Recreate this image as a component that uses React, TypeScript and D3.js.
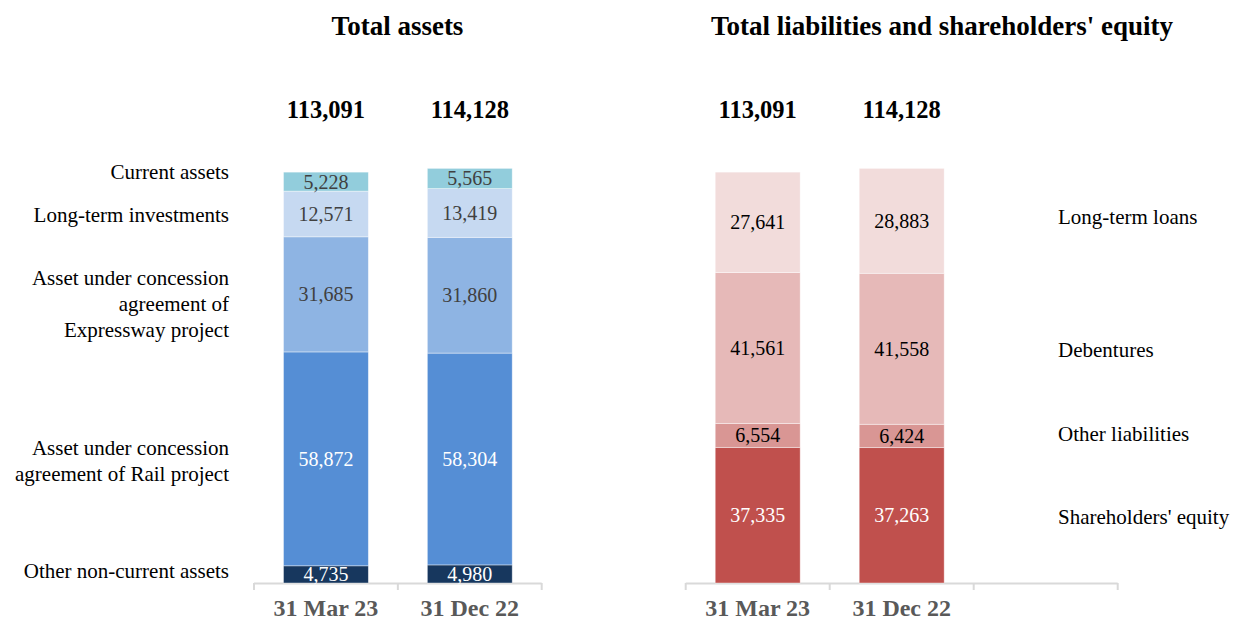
import React, { useEffect, useRef } from 'react';
import * as d3 from 'd3';

const periods = ['31 Mar 23', '31 Dec 22'];

const assetNames = [
  'Other non-current assets',
  'Asset under concession agreement of Rail project',
  'Asset under concession agreement of Expressway project',
  'Long-term investments',
  'Current assets',
];
const assetLines = [
  ['Other non-current assets'],
  ['Asset under concession', 'agreement of Rail project'],
  ['Asset under concession', 'agreement of', 'Expressway project'],
  ['Long-term investments'],
  ['Current assets'],
];
const assetsMar23 = [4735, 58872, 31685, 12571, 5228];
const assetsDec22 = [4980, 58304, 31860, 13419, 5565];
const assetColors = ['#17375E', '#558ED5', '#8EB4E3', '#C6D9F1', '#92CDDC'];
const assetTextColors = ['#FFFFFF', '#FFFFFF', '#404040', '#404040', '#404040'];
const assetLabelNudge = [-4, 2, 9, 1, -10];

const liabNames = ["Shareholders' equity", 'Other liabilities', 'Debentures', 'Long-term loans'];
const liabMar23 = [37335, 6554, 41561, 27641];
const liabDec22 = [37263, 6424, 41558, 28883];
const liabColors = ['#C0504D', '#D99694', '#E6B9B8', '#F2DCDB'];
const liabTextColors = ['#FFFFFF', '#000000', '#000000', '#000000'];
const liabLabelNudge = [1, -2, 2, -6];

const totals = [113091, 114128];

const W = 1233;
const H = 621;
const FONT = '"Liberation Serif", "Times New Roman", serif';
const fmt = d3.format(',');

const App = () => {
  const ref = useRef<SVGSVGElement>(null);

  useEffect(() => {
    const svg = d3.select(ref.current);
    svg.selectAll('*').remove();

    const baseY = 583;
    const y = d3.scaleLinear().domain([0, 120000]).range([baseY, baseY - 120000 * 0.003633]);

    const drawPanel = (
      cats: string[],
      range: [number, number],
      series: number[][],
      colors: string[],
      textColors: string[],
    ) => {
      const x = d3.scaleBand<string>().domain(cats).range(range).paddingInner(0.41).paddingOuter(0.205);
      const step = x.step();

      // axis
      const g = svg.append('g');
      g.append('line')
        .attr('x1', range[0]).attr('x2', range[1])
        .attr('y1', baseY + 0.5).attr('y2', baseY + 0.5)
        .attr('stroke', '#D9D9D9').attr('stroke-width', 2);
      d3.range(cats.length + 1).forEach((i) => {
        const tx = range[0] + i * step;
        g.append('line')
          .attr('x1', tx).attr('x2', tx)
          .attr('y1', baseY).attr('y2', baseY + 7)
          .attr('stroke', '#D9D9D9').attr('stroke-width', 2);
      });

      periods.forEach((p, pi) => {
        const vals = series[pi];
        const stacked = d3.cumsum(vals);
        const bx = x(p) as number;
        const bw = x.bandwidth();
        const bg = svg.append('g');
        vals.forEach((v, i) => {
          const y0 = y(stacked[i] - v);
          const y1 = y(stacked[i]);
          bg.append('rect')
            .attr('x', bx).attr('y', y1)
            .attr('width', bw).attr('height', y0 - y1)
            .attr('fill', colors[i])
            .attr('stroke', '#FFFFFF').attr('stroke-opacity', 0.5).attr('stroke-width', 0.8);
          bg.append('text')
            .attr('x', bx + bw / 2).attr('y', (y0 + y1) / 2)
            .attr('dy', '0.35em')
            .attr('text-anchor', 'middle')
            .attr('font-family', FONT).attr('font-size', 20)
            .attr('fill', textColors[i])
            .text(fmt(v));
        });
        svg.append('text')
          .attr('x', bx + bw / 2).attr('y', 118)
          .attr('text-anchor', 'middle')
          .attr('font-family', FONT).attr('font-size', 24.5).attr('font-weight', 'bold')
          .attr('fill', '#000')
          .text(fmt(totals[pi]));
        svg.append('text')
          .attr('x', bx + bw / 2).attr('y', 616)
          .attr('text-anchor', 'middle')
          .attr('font-family', FONT).attr('font-size', 24).attr('font-weight', 'bold')
          .attr('fill', '#595959')
          .text(p);
      });
      return x;
    };

    drawPanel(periods, [254, 541.7], [assetsMar23, assetsDec22], assetColors, assetTextColors);
    drawPanel([...periods, ''], [685.7, 1117.7], [liabMar23, liabDec22], liabColors, liabTextColors);

    // category labels, left
    const aStack = d3.cumsum(assetsMar23);
    assetNames.forEach((_, i) => {
      const mid = (y(aStack[i] - assetsMar23[i]) + y(aStack[i])) / 2 + assetLabelNudge[i];
      const lines = assetLines[i];
      const lh = 26;
      const t = svg.append('text')
        .attr('text-anchor', 'end')
        .attr('font-family', FONT).attr('font-size', 21)
        .attr('fill', '#000');
      lines.forEach((ln, li) => {
        t.append('tspan')
          .attr('x', 229)
          .attr('y', mid + (li - (lines.length - 1) / 2) * lh)
          .attr('dy', '0.35em')
          .text(ln);
      });
    });

    // category labels, right
    const lStack = d3.cumsum(liabMar23);
    liabNames.forEach((name, i) => {
      const mid = (y(lStack[i] - liabMar23[i]) + y(lStack[i])) / 2 + liabLabelNudge[i];
      svg.append('text')
        .attr('x', 1058).attr('y', mid).attr('dy', '0.35em')
        .attr('font-family', FONT).attr('font-size', 21)
        .attr('fill', '#000')
        .text(name);
    });

    // titles
    svg.append('text')
      .attr('x', 397.5).attr('y', 35)
      .attr('text-anchor', 'middle')
      .attr('font-family', FONT).attr('font-size', 27).attr('font-weight', 'bold')
      .text('Total assets');
    svg.append('text')
      .attr('x', 942).attr('y', 35)
      .attr('text-anchor', 'middle')
      .attr('font-family', FONT).attr('font-size', 27).attr('font-weight', 'bold')
      .text("Total liabilities and shareholders' equity");
  }, []);

  return (
    <svg
      ref={ref}
      width={W}
      height={H}
      style={{ position: 'absolute', left: 0, top: 0, background: '#fff' }}
    />
  );
};

export default App;
